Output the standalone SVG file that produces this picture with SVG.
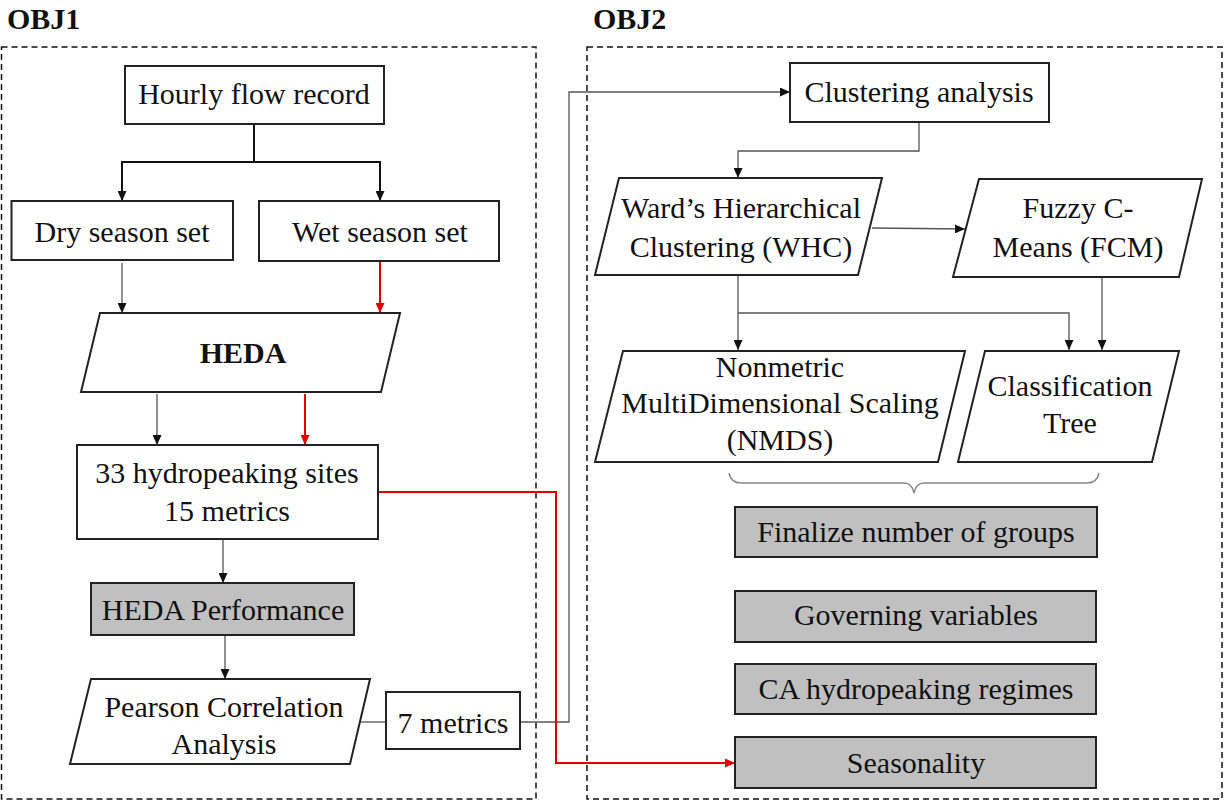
<svg xmlns="http://www.w3.org/2000/svg" width="1225" height="803" viewBox="0 0 1225 803">
<style>
text{font-family:"Liberation Serif","Times New Roman",serif;font-size:30px;fill:#111;text-anchor:middle}
.title{font-weight:bold;font-size:30px;text-anchor:start}
.bold{font-weight:bold}
.box{fill:#fff;stroke:#222;stroke-width:2}
.gbox{fill:#c0c0c0;stroke:#222;stroke-width:2}
.frame{fill:none;stroke:#111;stroke-width:1.5;stroke-dasharray:6 4}
.c{fill:none;stroke:#555;stroke-width:1.3}
.ck{fill:none;stroke:#111;stroke-width:2}
.cr{fill:none;stroke:#e00000;stroke-width:2}
</style>
<defs>
<marker id="ab" markerUnits="userSpaceOnUse" markerWidth="10" markerHeight="9" refX="10" refY="4.5" orient="auto"><path d="M0,0 L10,4.5 L0,9 z" fill="#111"/></marker>
<marker id="ar" markerUnits="userSpaceOnUse" markerWidth="10" markerHeight="9" refX="10" refY="4.5" orient="auto"><path d="M0,0 L10,4.5 L0,9 z" fill="#e00000"/></marker>
</defs>
<rect width="1225" height="803" fill="#fff"/>
<g id="frames">
<text class="title" x="7" y="29">OBJ1</text>
<text class="title" x="593" y="29">OBJ2</text>
<rect class="frame" x="1.5" y="47" width="534.5" height="752"/>
<rect class="frame" x="587" y="47" width="635" height="752"/>
</g>
<g id="connectors">
<path class="ck" d="M254,124 V162 H122 V201" marker-end="url(#ab)"/>
<path class="ck" d="M254,162 H380 V201" marker-end="url(#ab)"/>
<path class="c" d="M122,263 V313" marker-end="url(#ab)"/>
<path class="cr" d="M380,262 V313" marker-end="url(#ar)"/>
<path class="c" d="M157,394 V445" marker-end="url(#ab)"/>
<path class="cr" d="M305,394 V445" marker-end="url(#ar)"/>
<path class="c" d="M223,539 V583" marker-end="url(#ab)"/>
<path class="c" d="M225,636 V679" marker-end="url(#ab)"/>
<path class="c" d="M361,722 H386"/>
<path class="c" d="M520,722 H569 V92 H790" marker-end="url(#ab)"/>
<path class="cr" d="M378,492 H556 V763 H735" marker-end="url(#ar)"/>
<path class="c" d="M919,122 V151 H738 V178" marker-end="url(#ab)"/>
<path class="c" d="M872,228 L965,229" marker-end="url(#ab)"/>
<path class="c" d="M738,275 V350" marker-end="url(#ab)"/>
<path class="c" d="M738,313 H1069 V350" marker-end="url(#ab)"/>
<path class="c" d="M1102,277 V350" marker-end="url(#ab)"/>
<path fill="none" stroke="#888" stroke-width="1.5" d="M729,473 Q731,483 741,483 H904 Q912,483 914,493 Q916,483 924,483 H1087 Q1097,483 1099,473"/>
</g>
<g id="hourly">
<rect class="box" x="125" y="66" width="259" height="58"/>
<text x="254" y="104">Hourly flow record</text>
</g>
<g id="dry">
<rect class="box" x="11.5" y="201" width="221.5" height="59"/>
<text x="122" y="242">Dry season set</text>
</g>
<g id="wet">
<rect class="box" x="259" y="201" width="240" height="60"/>
<text x="380" y="242">Wet season set</text>
</g>
<g id="heda">
<polygon class="box" points="100,313 400,313 381,392 81,392"/>
<text class="bold" x="243" y="363">HEDA</text>
</g>
<g id="sites">
<rect class="box" x="77" y="445" width="301" height="94"/>
<text x="227" y="483">33 hydropeaking sites</text>
<text x="227" y="521">15 metrics</text>
</g>
<g id="perf">
<rect class="gbox" x="91" y="583" width="263" height="52"/>
<text x="223" y="620">HEDA Performance</text>
</g>
<g id="pearson">
<polygon class="box" points="91,679 370,679 350,764 70,764"/>
<text x="224" y="717">Pearson Correlation</text>
<text x="224" y="754">Analysis</text>
</g>
<g id="metrics7">
<rect class="box" x="386" y="692" width="134" height="57"/>
<text x="453" y="733">7 metrics</text>
</g>
<g id="clustering">
<rect class="box" x="790" y="63" width="259" height="59"/>
<text x="919" y="102">Clustering analysis</text>
</g>
<g id="whc">
<polygon class="box" points="619,178 882,178 858,275 595,275"/>
<text x="741" y="218">Ward’s Hierarchical</text>
<text x="741" y="257">Clustering (WHC)</text>
</g>
<g id="fcm">
<polygon class="box" points="979,179 1202,179 1179,277 953,277"/>
<text x="1078" y="218">Fuzzy C-</text>
<text x="1078" y="257">Means (FCM)</text>
</g>
<g id="nmds">
<polygon class="box" points="623,351 965,351 938,462 595,462"/>
<text x="780" y="377">Nonmetric</text>
<text x="780" y="413">MultiDimensional Scaling</text>
<text x="780" y="450">(NMDS)</text>
</g>
<g id="tree">
<polygon class="box" points="985,351 1179,351 1152,462 958,462"/>
<text x="1070" y="396">Classification</text>
<text x="1070" y="433">Tree</text>
</g>
<g id="finalize">
<rect class="gbox" x="735" y="507" width="362" height="50"/>
<text x="916" y="542">Finalize number of groups</text>
</g>
<g id="governing">
<rect class="gbox" x="735" y="591" width="361" height="51"/>
<text x="916" y="625">Governing variables</text>
</g>
<g id="regimes">
<rect class="gbox" x="735" y="664" width="361" height="50"/>
<text x="916" y="699">CA hydropeaking regimes</text>
</g>
<g id="seasonality">
<rect class="gbox" x="735" y="737" width="361" height="51"/>
<text x="916" y="773">Seasonality</text>
</g>
</svg>
